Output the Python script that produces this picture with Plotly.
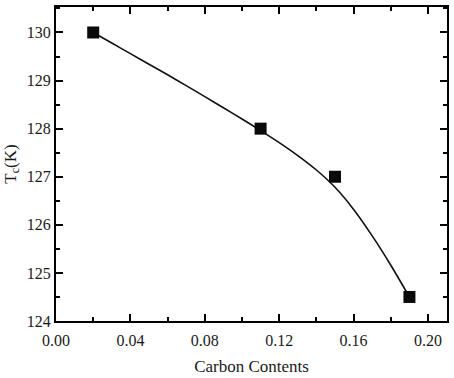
import plotly.graph_objects as go

# Measured data points
carbon = [0.02, 0.11, 0.15, 0.19]
tc = [130.0, 128.0, 127.0, 124.5]

# Fitted curve
fit_x = [0.02, 0.03, 0.04, 0.05, 0.06, 0.07, 0.08, 0.09, 0.10,
         0.11, 0.12, 0.13, 0.14, 0.15, 0.16, 0.17, 0.18, 0.19]
fit_y = [130.00, 129.78, 129.56, 129.34, 129.12, 128.895, 128.665, 128.435, 128.20,
         127.96, 127.71, 127.44, 127.14, 126.78, 126.32, 125.77, 125.16, 124.50]

x_ticks = [0.00, 0.04, 0.08, 0.12, 0.16, 0.20]
x_labels = ["0.00", "0.04", "0.08", "0.12", "0.16", "0.20"]
y_ticks = [124, 125, 126, 127, 128, 129, 130]

font = "Liberation Serif, Times New Roman, serif"

fig = go.Figure()
fig.add_trace(go.Scatter(x=fit_x, y=fit_y, mode="lines",
                         line=dict(color="#111111", width=1.6, shape="spline", smoothing=0.8),
                         showlegend=False, hoverinfo="skip"))
fig.add_trace(go.Scatter(x=carbon, y=tc, mode="markers",
                         marker=dict(symbol="square", size=12, color="#0a0a0a"),
                         showlegend=False))

axis_common = dict(showline=True, linecolor="black", linewidth=2, mirror="allticks",
                   ticks="inside", ticklen=7, tickwidth=2, tickcolor="black",
                   showgrid=False, zeroline=False,
                   tickfont=dict(family=font, size=16, color="#1a1a1a"))

fig.update_xaxes(range=[0, 0.2102], tickvals=x_ticks, ticktext=x_labels,
                 ticklabelstandoff=4,
                 minor=dict(ticks="inside", ticklen=4, tickwidth=2, dtick=0.02,
                            tick0=0, tickcolor="black", showgrid=False),
                 title=dict(text="Carbon Contents", font=dict(family=font, size=17, color="#1a1a1a"),
                            standoff=12),
                 **axis_common)
fig.update_yaxes(range=[124, 130.53], tickvals=y_ticks,
                 minor=dict(ticks="inside", ticklen=4, tickwidth=2, dtick=0.5,
                            tick0=124, tickcolor="black", showgrid=False),
                 title=dict(text="T<sub>c</sub>(K)", font=dict(family=font, size=17, color="#1a1a1a"),
                            standoff=6),
                 **axis_common)

fig.update_layout(width=454, height=378, margin=dict(l=56, r=7, t=5, b=55),
                  plot_bgcolor="white", paper_bgcolor="white")

fig.write_html("out.html")
